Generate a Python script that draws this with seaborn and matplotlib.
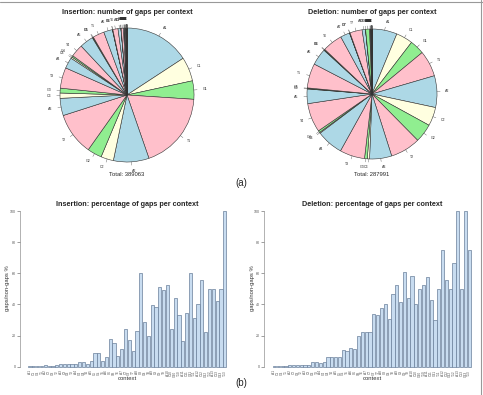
import matplotlib
matplotlib.use("Agg")
import matplotlib.pyplot as plt
import seaborn as sns
import numpy as np
from matplotlib.lines import Line2D

contexts = ["A1", "C1", "G1", "T1", "A2", "C2", "G2", "T2", "A3", "C3", "G3", "T3",
            "A4", "C4", "G4", "T4", "A5", "C5", "G5", "T5", "A6", "C6", "G6", "T6",
            "A7", "C7", "G7", "T7", "A8", "C8", "G8", "T8", "A9", "C9", "G9", "T9",
            "A10", "C10", "G10", "T10", "A11", "C11", "G11", "T11", "A12", "C12", "G12", "T12",
            "A13", "C13", "G13", "T13"]

# number of gaps per context
ins_counts = [61600, 22700, 17290, 72840, 33500, 11890, 13620, 39990, 16210, 4970, 4540, 19450,
              10270, 1400, 1400, 11890, 12970, 540, 540, 10810, 8210, 220, 220, 4860,
              2700, 110, 110, 2160, 1080, 50, 50, 860, 430, 20, 20, 320,
              160, 8, 8, 120, 60, 3, 3, 50, 25, 1, 1, 20, 10, 1, 1, 8]
del_counts = [18000, 12000, 10400, 18640, 22720, 13360, 13360, 21600, 15840, 1600, 2000, 17920,
              19200, 640, 1360, 20800, 10400, 320, 480, 17600, 12000, 320, 480, 14400,
              6720, 160, 240, 8800, 2400, 80, 2880, 640, 320, 30, 40, 250,
              120, 10, 15, 90, 50, 4, 6, 40, 20, 2, 2, 15, 8, 1, 1, 6]
ins_total = 389063
del_total = 287991

# percentage gaps / non-gaps per context
ins_pct = [0.5, 0.3, 0.3, 0.7, 0.8, 0.6, 0.6, 1.0, 1.5, 2.0, 1.5, 1.5, 1.5, 3.0, 3.0, 2.0,
           3.5, 8.5, 8.5, 3.5, 6.5, 18, 15, 6.8, 11.5, 24.5, 17, 10, 23, 60, 28.5, 19.5,
           39.5, 38.5, 51, 49, 52.5, 24.5, 44, 33, 16.5, 34.5, 60, 31, 40, 55.5,
           22, 50, 50, 42.5, 50, 100]
del_pct = [0.3, 0.3, 0.3, 0.5, 0.8, 0.8, 0.8, 1.0, 1.2, 1.0, 2.8, 2.8, 2.5, 3.0, 6.0, 6.5,
           6.0, 6.5, 11, 10, 12, 11.5, 20, 22, 22, 22, 34, 33, 38, 40.5, 30.5, 46.5,
           52.5, 41.5, 61, 44, 58, 40, 50, 52.5, 57.5, 43, 30, 50, 75, 55.5,
           50, 66.5, 100, 50, 100, 75]

base_colors = {"A": "lightblue", "C": "lightyellow", "G": "lightgreen", "T": "pink"}
pie_colors = [base_colors[c[0]] for c in contexts]

sns.set_style("white")
plt.rcParams["font.family"] = ["Liberation Sans", "DejaVu Sans"]

W, H = 483, 395
fig = plt.figure(figsize=(W / 100, H / 100), dpi=100)


def px_rect(left, top, width, height):
    return [left / W, 1 - (top + height) / H, width / W, height / H]


def draw_pie(cx, cy, r, counts, title, total):
    size = 2.5 * r
    ax = fig.add_axes(px_rect(cx - size / 2, cy - size / 2, size, size))
    wedges, texts = ax.pie(counts, labels=contexts, colors=pie_colors, startangle=90,
                           counterclock=False, labeldistance=1.13,
                           wedgeprops=dict(edgecolor="#333333", linewidth=0.4),
                           textprops=dict(fontsize=2.6, color="#333333"))
    for w in wedges:
        ang = np.deg2rad((w.theta1 + w.theta2) / 2)
        ax.plot([np.cos(ang), 1.05 * np.cos(ang)], [np.sin(ang), 1.05 * np.sin(ang)],
                color="#555555", lw=0.3)
    ax.set_xlim(-1.25, 1.25)
    ax.set_ylim(-1.25, 1.25)
    ax.set_aspect("equal")
    ax.axis("off")
    fig.text(cx / W, 1 - 13 / H, title, ha="center", va="center", fontsize=5.2, fontweight="bold")
    fig.text(cx / W, 1 - 175 / H, f"Total: {total}", ha="center", va="center", fontsize=4.2)


def draw_bars(axis_x, values, title):
    step = 3.82
    lo, hi = -2.67, 53.67
    ax = fig.add_axes(px_rect(axis_x, 204.8, (hi - lo) * step, 165.0))
    sns.barplot(x=contexts, y=values, color="#c8dcf0", edgecolor="#6a7f9a", linewidth=0.5,
                width=1 / 1.2, saturation=1, ax=ax)
    ax.set_xlim(lo, hi)
    ax.set_ylim(-2, 104)
    for s in ["top", "right", "bottom"]:
        ax.spines[s].set_visible(False)
    ax.spines["left"].set_bounds(0, 100)
    ax.spines["left"].set_linewidth(0.4)
    ax.spines["left"].set_color("#777777")
    ax.set_yticks([0, 20, 40, 60, 80, 100])
    ax.tick_params(axis="y", labelsize=2.6, length=2, width=0.4, pad=1, colors="#555555", left=True)
    ax.tick_params(axis="x", labelsize=2.3, rotation=90, length=0, pad=0.5, labelcolor="#555555")
    ax.set_xlabel("")
    ax.set_ylabel("")
    mid = axis_x + (hi - lo) * step / 2
    fig.text(mid / W, 1 - 204 / H, title, ha="center", va="center", fontsize=5.2, fontweight="bold")
    fig.text(mid / W, 1 - 378 / H, "context", ha="center", va="center", fontsize=4.2, color="#333333")
    fig.text((axis_x - 12) / W, 1 - 288 / H, "gaps/non-gaps %", ha="center", va="center",
             rotation=90, fontsize=4.2, color="#333333")


draw_pie(127, 95, 67, ins_counts, "Insertion: number of gaps per context", ins_total)
draw_pie(372, 94, 65, del_counts, "Deletion: number of gaps per context", del_total)
draw_bars(19.8, ins_pct, "Insertion: percentage of gaps per context")
draw_bars(264.3, del_pct, "Deletion: percentage of gaps per context")

fig.text(241 / W, 1 - 183 / H, "(a)", ha="center", va="center", fontsize=7)
fig.text(241 / W, 1 - 383 / H, "(b)", ha="center", va="center", fontsize=7)

fig.add_artist(Line2D([0, 1], [1 - 1.5 / H, 1 - 1.5 / H], color="#999999", lw=0.8))
fig.add_artist(Line2D([1 - 2 / W, 1 - 2 / W], [0, 1], color="#999999", lw=0.8))

fig.savefig("out.png", dpi=100)
